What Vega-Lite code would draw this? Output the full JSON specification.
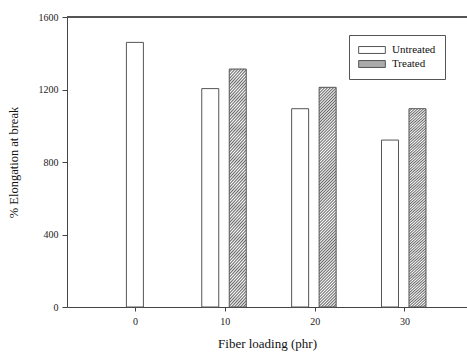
{
  "$schema": "https://vega.github.io/schema/vega-lite/v6.json",
  "width": 400,
  "height": 290,
  "autosize": {"type": "none"},
  "padding": {"left": 67, "top": 17, "right": 0, "bottom": 45},
  "background": "white",
  "config": {
    "view": {"stroke": null},
    "font": "Liberation Serif",
    "axis": {
      "grid": false,
      "domainColor": "#444",
      "domainWidth": 1,
      "tickColor": "#444",
      "labelFont": "Liberation Serif",
      "labelFontSize": 10,
      "labelColor": "#222",
      "labelOverlap": false,
      "titleFont": "Liberation Serif",
      "titleFontWeight": "normal",
      "titleColor": "#111"
    },
    "legend": {
      "symbolStrokeColor": "#555",
      "symbolStrokeWidth": 1
    }
  },
  "data": {
    "values": [
      {"loading": 0, "treatment": "Untreated", "elongation": 1460},
      {"loading": 10, "treatment": "Untreated", "elongation": 1205},
      {"loading": 10, "treatment": "Treated", "elongation": 1313},
      {"loading": 20, "treatment": "Untreated", "elongation": 1094},
      {"loading": 20, "treatment": "Treated", "elongation": 1212},
      {"loading": 30, "treatment": "Untreated", "elongation": 921},
      {"loading": 30, "treatment": "Treated", "elongation": 1094}
    ]
  },
  "layer": [
    {
      "transform": [{"filter": "datum.treatment === 'Untreated' && datum.loading === 0"}],
      "mark": {"type": "bar", "width": 17, "strokeWidth": 1, "xOffset": 0},
      "encoding": {
        "x": {
          "field": "loading", "type": "quantitative",
          "scale": {"domain": [-7, 36.4], "nice": false, "zero": false},
          "axis": {"values": [0, 10, 20, 30], "tickSize": 4, "labelPadding": 5, "labelOverlap": false, "title": "Fiber loading (phr)", "titleFontSize": 13, "titlePadding": 11}
        },
        "y": {
          "field": "elongation", "type": "quantitative",
          "scale": {"domain": [0, 1600], "nice": false},
          "axis": {"values": [0, 200, 400, 600, 800, 1000, 1200, 1400, 1600], "format": "d", "tickSize": 5, "labelPadding": 4, "labelOverlap": false, "labelBound": false, "title": "% Elongation at break", "titleFontSize": 12.5, "titlePadding": 18}
        },
        "stroke": {
          "field": "treatment", "type": "nominal",
          "scale": {"domain": ["Untreated", "Treated"], "range": ["#555555", "#555555"]},
          "legend": {"title": null}
        },
        "fill": {
          "field": "treatment", "type": "nominal",
          "scale": {"domain": ["Untreated", "Treated"], "range": ["#ffffff", "#ababab"]},
          "legend": {
            "title": null,
            "orient": "none",
            "legendX": 282,
            "legendY": 18,
            "padding": 9,
            "strokeColor": "#555",
            "fillColor": "white",
            "symbolType": "M-1,-0.26H1V0.26H-1Z",
            "symbolSize": 711,
            "symbolStrokeColor": "#555",
            "symbolStrokeWidth": 1,
            "symbolOpacity": 1,
            "clipHeight": 12,
            "rowPadding": 2,
            "labelFont": "Liberation Serif",
            "labelFontSize": 11,
            "labelColor": "#111",
            "labelOffset": 6
          }
        }
      }
    },
    {
      "transform": [{"filter": "datum.treatment === 'Untreated' && datum.loading > 0"}],
      "mark": {"type": "bar", "width": 17, "strokeWidth": 1, "xOffset": -14.5},
      "encoding": {
        "x": {"field": "loading", "type": "quantitative"},
        "y": {"field": "elongation", "type": "quantitative"},
        "stroke": {"field": "treatment", "type": "nominal"},
        "fill": {"field": "treatment", "type": "nominal"}
      }
    },
    {
      "transform": [{"filter": "datum.treatment === 'Treated'"}],
      "mark": {
        "type": "bar", "width": 17, "stroke": "#555", "strokeWidth": 1, "xOffset": 13,
        "fill": {
          "gradient": "linear", "x1": 0, "y1": 0, "x2": 0.0832, "y2": 1.071,
          "stops": [
            {"offset": 0, "color": "#666"}, {"offset": 0.00625, "color": "#fff"}, {"offset": 0.0125, "color": "#666"}, {"offset": 0.01875, "color": "#fff"},
            {"offset": 0.025, "color": "#666"}, {"offset": 0.03125, "color": "#fff"}, {"offset": 0.0375, "color": "#666"}, {"offset": 0.04375, "color": "#fff"},
            {"offset": 0.05, "color": "#666"}, {"offset": 0.05625, "color": "#fff"}, {"offset": 0.0625, "color": "#666"}, {"offset": 0.06875, "color": "#fff"},
            {"offset": 0.075, "color": "#666"}, {"offset": 0.08125, "color": "#fff"}, {"offset": 0.0875, "color": "#666"}, {"offset": 0.09375, "color": "#fff"},
            {"offset": 0.1, "color": "#666"}, {"offset": 0.10625, "color": "#fff"}, {"offset": 0.1125, "color": "#666"}, {"offset": 0.11875, "color": "#fff"},
            {"offset": 0.125, "color": "#666"}, {"offset": 0.13125, "color": "#fff"}, {"offset": 0.1375, "color": "#666"}, {"offset": 0.14375, "color": "#fff"},
            {"offset": 0.15, "color": "#666"}, {"offset": 0.15625, "color": "#fff"}, {"offset": 0.1625, "color": "#666"}, {"offset": 0.16875, "color": "#fff"},
            {"offset": 0.175, "color": "#666"}, {"offset": 0.18125, "color": "#fff"}, {"offset": 0.1875, "color": "#666"}, {"offset": 0.19375, "color": "#fff"},
            {"offset": 0.2, "color": "#666"}, {"offset": 0.20625, "color": "#fff"}, {"offset": 0.2125, "color": "#666"}, {"offset": 0.21875, "color": "#fff"},
            {"offset": 0.225, "color": "#666"}, {"offset": 0.23125, "color": "#fff"}, {"offset": 0.2375, "color": "#666"}, {"offset": 0.24375, "color": "#fff"},
            {"offset": 0.25, "color": "#666"}, {"offset": 0.25625, "color": "#fff"}, {"offset": 0.2625, "color": "#666"}, {"offset": 0.26875, "color": "#fff"},
            {"offset": 0.275, "color": "#666"}, {"offset": 0.28125, "color": "#fff"}, {"offset": 0.2875, "color": "#666"}, {"offset": 0.29375, "color": "#fff"},
            {"offset": 0.3, "color": "#666"}, {"offset": 0.30625, "color": "#fff"}, {"offset": 0.3125, "color": "#666"}, {"offset": 0.31875, "color": "#fff"},
            {"offset": 0.325, "color": "#666"}, {"offset": 0.33125, "color": "#fff"}, {"offset": 0.3375, "color": "#666"}, {"offset": 0.34375, "color": "#fff"},
            {"offset": 0.35, "color": "#666"}, {"offset": 0.35625, "color": "#fff"}, {"offset": 0.3625, "color": "#666"}, {"offset": 0.36875, "color": "#fff"},
            {"offset": 0.375, "color": "#666"}, {"offset": 0.38125, "color": "#fff"}, {"offset": 0.3875, "color": "#666"}, {"offset": 0.39375, "color": "#fff"},
            {"offset": 0.4, "color": "#666"}, {"offset": 0.40625, "color": "#fff"}, {"offset": 0.4125, "color": "#666"}, {"offset": 0.41875, "color": "#fff"},
            {"offset": 0.425, "color": "#666"}, {"offset": 0.43125, "color": "#fff"}, {"offset": 0.4375, "color": "#666"}, {"offset": 0.44375, "color": "#fff"},
            {"offset": 0.45, "color": "#666"}, {"offset": 0.45625, "color": "#fff"}, {"offset": 0.4625, "color": "#666"}, {"offset": 0.46875, "color": "#fff"},
            {"offset": 0.475, "color": "#666"}, {"offset": 0.48125, "color": "#fff"}, {"offset": 0.4875, "color": "#666"}, {"offset": 0.49375, "color": "#fff"},
            {"offset": 0.5, "color": "#666"}, {"offset": 0.50625, "color": "#fff"}, {"offset": 0.5125, "color": "#666"}, {"offset": 0.51875, "color": "#fff"},
            {"offset": 0.525, "color": "#666"}, {"offset": 0.53125, "color": "#fff"}, {"offset": 0.5375, "color": "#666"}, {"offset": 0.54375, "color": "#fff"},
            {"offset": 0.55, "color": "#666"}, {"offset": 0.55625, "color": "#fff"}, {"offset": 0.5625, "color": "#666"}, {"offset": 0.56875, "color": "#fff"},
            {"offset": 0.575, "color": "#666"}, {"offset": 0.58125, "color": "#fff"}, {"offset": 0.5875, "color": "#666"}, {"offset": 0.59375, "color": "#fff"},
            {"offset": 0.6, "color": "#666"}, {"offset": 0.60625, "color": "#fff"}, {"offset": 0.6125, "color": "#666"}, {"offset": 0.61875, "color": "#fff"},
            {"offset": 0.625, "color": "#666"}, {"offset": 0.63125, "color": "#fff"}, {"offset": 0.6375, "color": "#666"}, {"offset": 0.64375, "color": "#fff"},
            {"offset": 0.65, "color": "#666"}, {"offset": 0.65625, "color": "#fff"}, {"offset": 0.6625, "color": "#666"}, {"offset": 0.66875, "color": "#fff"},
            {"offset": 0.675, "color": "#666"}, {"offset": 0.68125, "color": "#fff"}, {"offset": 0.6875, "color": "#666"}, {"offset": 0.69375, "color": "#fff"},
            {"offset": 0.7, "color": "#666"}, {"offset": 0.70625, "color": "#fff"}, {"offset": 0.7125, "color": "#666"}, {"offset": 0.71875, "color": "#fff"},
            {"offset": 0.725, "color": "#666"}, {"offset": 0.73125, "color": "#fff"}, {"offset": 0.7375, "color": "#666"}, {"offset": 0.74375, "color": "#fff"},
            {"offset": 0.75, "color": "#666"}, {"offset": 0.75625, "color": "#fff"}, {"offset": 0.7625, "color": "#666"}, {"offset": 0.76875, "color": "#fff"},
            {"offset": 0.775, "color": "#666"}, {"offset": 0.78125, "color": "#fff"}, {"offset": 0.7875, "color": "#666"}, {"offset": 0.79375, "color": "#fff"},
            {"offset": 0.8, "color": "#666"}, {"offset": 0.80625, "color": "#fff"}, {"offset": 0.8125, "color": "#666"}, {"offset": 0.81875, "color": "#fff"},
            {"offset": 0.825, "color": "#666"}, {"offset": 0.83125, "color": "#fff"}, {"offset": 0.8375, "color": "#666"}, {"offset": 0.84375, "color": "#fff"},
            {"offset": 0.85, "color": "#666"}, {"offset": 0.85625, "color": "#fff"}, {"offset": 0.8625, "color": "#666"}, {"offset": 0.86875, "color": "#fff"},
            {"offset": 0.875, "color": "#666"}, {"offset": 0.88125, "color": "#fff"}, {"offset": 0.8875, "color": "#666"}, {"offset": 0.89375, "color": "#fff"},
            {"offset": 0.9, "color": "#666"}, {"offset": 0.90625, "color": "#fff"}, {"offset": 0.9125, "color": "#666"}, {"offset": 0.91875, "color": "#fff"},
            {"offset": 0.925, "color": "#666"}, {"offset": 0.93125, "color": "#fff"}, {"offset": 0.9375, "color": "#666"}, {"offset": 0.94375, "color": "#fff"},
            {"offset": 0.95, "color": "#666"}, {"offset": 0.95625, "color": "#fff"}, {"offset": 0.9625, "color": "#666"}, {"offset": 0.96875, "color": "#fff"},
            {"offset": 0.975, "color": "#666"}, {"offset": 0.98125, "color": "#fff"}, {"offset": 0.9875, "color": "#666"}, {"offset": 0.99375, "color": "#fff"},
            {"offset": 1, "color": "#666"}
          ]
        }
      },
      "encoding": {
        "x": {"field": "loading", "type": "quantitative"},
        "y": {"field": "elongation", "type": "quantitative"}
      }
    },
    {
      "mark": {"type": "rule", "color": "#555", "strokeWidth": 1},
      "encoding": {"y": {"datum": 1600, "type": "quantitative"}}
    }
  ]
}
